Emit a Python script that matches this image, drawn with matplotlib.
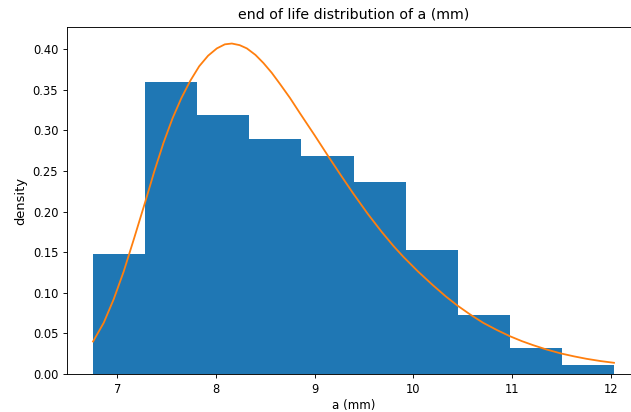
import matplotlib
matplotlib.use("Agg")
import matplotlib.pyplot as plt
import numpy as np

# histogram bin edges and densities
bin_edges = [6.754, 7.282, 7.810, 8.338, 8.866, 9.394, 9.922, 10.450, 10.978, 11.506, 12.034]
densities = [0.148, 0.359, 0.319, 0.290, 0.268, 0.237, 0.153, 0.073, 0.032, 0.011]

# fitted pdf curve, traced point by point
curve_x = [6.754, 6.862, 6.963, 7.064, 7.170, 7.283, 7.376, 7.469, 7.560, 7.650,
           7.739, 7.830, 7.920, 8.009, 8.090, 8.161, 8.240, 8.313, 8.400, 8.481,
           8.565, 8.650, 8.750, 8.852, 9.000, 9.139, 9.270, 9.393, 9.540, 9.680,
           9.800, 9.898, 10.050, 10.202, 10.330, 10.445, 10.580, 10.709, 10.850,
           10.980, 11.100, 11.215, 11.350, 11.500, 11.630, 11.756, 11.900, 12.034]
curve_y = [0.040, 0.063, 0.092, 0.126, 0.167, 0.212, 0.250, 0.285, 0.315, 0.340,
           0.361, 0.379, 0.392, 0.401, 0.406, 0.407, 0.405, 0.401, 0.393, 0.383,
           0.371, 0.357, 0.340, 0.321, 0.294, 0.268, 0.244, 0.222, 0.197, 0.175,
           0.1575, 0.1445, 0.126, 0.109, 0.0955, 0.0845, 0.073, 0.063, 0.054,
           0.0465, 0.0405, 0.0355, 0.0302, 0.0252, 0.0217, 0.0187, 0.0159, 0.0138]

plt.rcParams.update({
    "font.family": "DejaVu Sans",
    "font.size": 8.3,
    "axes.titlesize": 10.2,
    "xtick.labelsize": 8.3,
    "ytick.labelsize": 8.3,
    "axes.linewidth": 0.65,
    "xtick.major.size": 2.8,
    "ytick.major.size": 2.8,
    "xtick.major.width": 0.65,
    "ytick.major.width": 0.65,
})

fig = plt.figure(figsize=(6.31, 4.12), dpi=100)
# axes runs past the right edge, as in the cropped reference
ax = fig.add_axes([67 / 631, 38 / 412, 573 / 631, 347 / 412])

edges = np.array(bin_edges)
ax.bar(edges[:-1], densities, width=np.diff(edges), align="edge", color="#1f77b4")
ax.plot(curve_x, curve_y, color="#ff7f0e", lw=1.3)

ax.set_title("end of life distribution of a (mm)")
ax.set_xlabel("a (mm)", fontsize=8.6, labelpad=2)
ax.set_ylabel("density", fontsize=9.4)
ax.set_yticks(np.arange(0, 0.41, 0.05))

fig.savefig("out.png", dpi=100)
